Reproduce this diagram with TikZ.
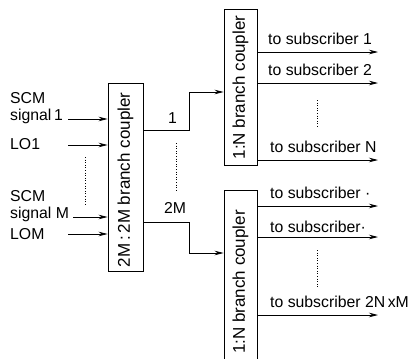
\documentclass[tikz,border=0pt]{standalone}
\usepackage{fontspec}
\setmainfont{Liberation Sans}
\usetikzlibrary{arrows.meta}
\begin{document}
\begin{tikzpicture}[x=1pt,y=-1pt,
  lbl/.style={inner sep=0pt,anchor=base west,font=\fontsize{15.8}{17}\selectfont},
  rlbl/.style={rotate=90,inner sep=0pt,font=\fontsize{17}{18}\selectfont},
  box/.style={draw,line width=0.9pt,inner sep=0pt},
  conn/.style={line width=0.8pt},
  arr/.style={conn,-{Stealth[length=9pt,width=4.5pt]}},
  dots/.style={line width=0.6pt,dotted}]
\useasboundingbox (0,0) rectangle (410,359);
% boxes
\node[box,minimum width=35pt,minimum height=188pt] (L) at (125.5,177) {};
\node[rlbl] (Lt) at (125.5,180) {2M\,:\,2M branch coupler};
\node[box,minimum width=33pt,minimum height=156pt] (T) at (240.5,87) {};
\node[rlbl] (Tt) at (240.5,87.5) {1:N branch coupler};
\node[box,minimum width=33pt,minimum height=184pt] (B) at (240.5,282) {};
\node[rlbl] (Bt) at (240.5,282) {1:N branch coupler};
% input labels
\node[lbl] (s1a) at (10,103) {SCM};
\node[lbl] (s1b) at (10,120) {signal\,1};
\node[lbl] (lo1) at (10,149) {LO1};
\node[lbl] (sMa) at (10,201) {SCM};
\node[lbl] (sMb) at (10,218) {signal M};
\node[lbl] (loM) at (10,239) {LOM};
% input arrows
\coordinate (i1) at (68,119);
\coordinate (i2) at (68,145);
\coordinate (i3) at (73,217);
\coordinate (i4) at (68,234);
\draw[arr] (i1) -- (i1 -| L.west);
\draw[arr] (i2) -- (i2 -| L.west);
\draw[arr] (i3) -- (i3 -| L.west);
\draw[arr] (i4) -- (i4 -| L.west);
\coordinate (d1) at (85,157);
\coordinate (d2) at (85,205);
\draw[dots] (d1) -- (d2);
% middle connections
\coordinate (o1) at (143,130);
\coordinate (t1) at (224,92);
\coordinate (o2) at (143,222);
\coordinate (t2) at (224,253);
\draw[arr] (o1 -| L.east) -- (189,130) -- (189,92) -- (t1 -| T.west);
\draw[arr] (o2 -| L.east) -- (189,222) -- (189,253) -- (t2 -| B.west);
\node[lbl] (n1) at (168,123) {1};
\node[lbl] (n2) at (164,213) {2M};
\coordinate (d3) at (176,143);
\coordinate (d4) at (176,190);
\draw[dots] (d3) -- (d4);
% top outputs
\coordinate (e1) at (378,52);
\coordinate (e2) at (378,83);
\coordinate (e3) at (378,160);
\draw[arr] (e1 -| T.east) -- (e1);
\draw[arr] (e2 -| T.east) -- (e2);
\draw[arr] (e3 -| T.east) -- (e3);
\node[lbl] (a1) at (268,44) {to subscriber 1};
\node[lbl] (a2) at (268,75) {to subscriber 2};
\node[lbl] (a3) at (270,152) {to subscriber N};
\coordinate (d5) at (317,100);
\coordinate (d6) at (317,128);
\draw[dots] (d5) -- (d6);
% bottom outputs
\coordinate (f1) at (378,206);
\coordinate (f2) at (378,237);
\coordinate (f3) at (378,315);
\draw[arr] (f1 -| B.east) -- (f1);
\draw[arr] (f2 -| B.east) -- (f2);
\draw[arr] (f3 -| B.east) -- (f3);
\node[lbl] (b1) at (270,198) {to subscriber ·};
\node[lbl] (b2) at (270,232) {to subscriber·};
\node[lbl] (b3) at (270,307) {to subscriber 2N\,xM};
\coordinate (d7) at (317,250);
\coordinate (d8) at (317,288);
\draw[dots] (d7) -- (d8);
\end{tikzpicture}
\end{document}
